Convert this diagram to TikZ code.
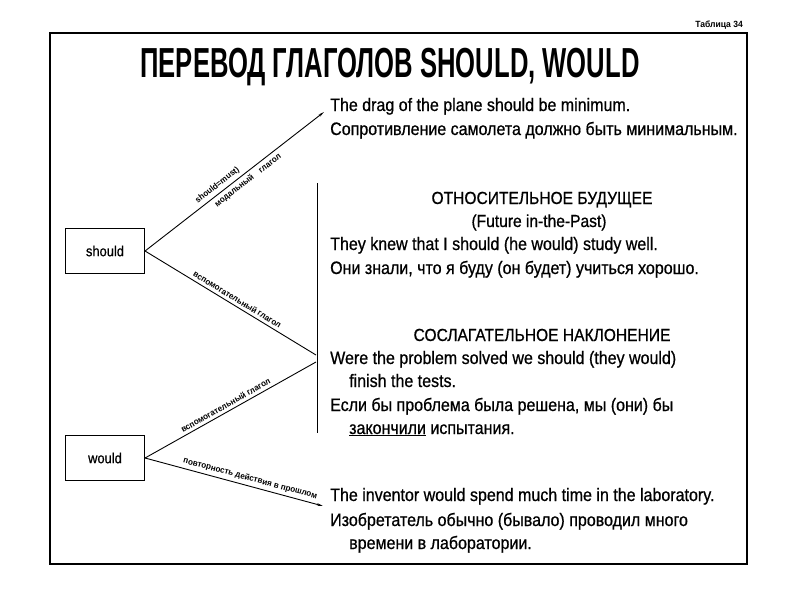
\documentclass[tikz,border=0pt]{standalone}
\usepackage{fontspec}
\setmainfont{Liberation Sans}[FakeStretch=0.89,FakeBold=0.7]
\newfontfamily\titlefont{Liberation Sans}[FakeStretch=0.61]
\newfontfamily\labelfont{Liberation Sans}[FakeStretch=0.95]
\usetikzlibrary{arrows.meta}
\begin{document}
\begin{tikzpicture}[x=1pt,y=-1pt,
  txt/.style={anchor=base west, inner sep=0pt, font=\fontsize{18}{20}\selectfont},
  head/.style={anchor=base, inner sep=0pt, font=\fontsize{17.5}{20}\selectfont},
  vbox/.style={draw, line width=1.1pt, minimum width=79pt, minimum height=45pt, inner sep=0pt, font=\fontsize{14.5}{16}\selectfont},
  conn/.style={line width=0.9pt},
  lbl/.style={font=\labelfont\bfseries\fontsize{8.5}{9}\selectfont, sloped, inner sep=3pt},
  tip/.style={-{Stealth[length=6pt,width=2.5pt]}}
]
\fill[white] (0,0) rectangle (800,600);
\useasboundingbox (0,0) rectangle (800,600);
% frame
\draw[line width=1.2pt] (50,33) rectangle (747,564);
\node[anchor=base east, inner sep=0pt, font=\labelfont\bfseries\fontsize{9}{10}\selectfont] (tab) at (743,27) {Таблица 34};
\node[anchor=base, inner sep=0pt, font=\titlefont\bfseries\fontsize{42}{44}\selectfont] (title) at (390,77) {ПЕРЕВОД ГЛАГОЛОВ SHOULD, WOULD};
% boxes
\node[vbox] (s) at (105,251) {should};
\node[vbox] (w) at (105,458) {would};
% bar
\coordinate (bt) at (317,183);
\coordinate (bb) at (317,433);
\draw[line width=1pt] (bt) -- (bb);
\coordinate (top) at (324,112);
\coordinate (m1) at (316,355);
\coordinate (m2) at (316,362);
\coordinate (bot) at (323,506);
% connectors
\draw[conn,tip] (s.east) -- node[lbl, above, pos=0.43] {should=must)} node[lbl, below, pos=0.55] {модальный\quad глагол} (top);
\draw[conn] (s.east) -- node[lbl, above, pos=0.52] {вспомогательный глагол} (m1);
\draw[conn] (w.east) -- node[lbl, above, pos=0.49] {вспомогательный глагол} (m2);
\draw[conn,tip] (w.east) -- node[lbl, above, pos=0.58] {повторность действия в прошлом} (bot);
% texts
\node[txt] (t1) at (330,111) {The drag of the plane should be minimum.};
\node[txt] (t2) at (330,135) {Сопротивление самолета должно быть минимальным.};
\node[head] (h1) at (542,204) {ОТНОСИТЕЛЬНОЕ БУДУЩЕЕ};
\node[head] (h1b) at (539,227) {(Future in-the-Past)};
\node[txt] (t3) at (330,250) {They knew that I should (he would) study well.};
\node[txt] (t4) at (330,274) {Они знали, что я буду (он будет) учиться хорошо.};
\node[head] (h2) at (542,341) {СОСЛАГАТЕЛЬНОЕ НАКЛОНЕНИЕ};
\node[txt] (t5) at (330,364) {Were the problem solved we should (they would)};
\node[txt] (t6) at (349,387) {finish the tests.};
\node[txt] (t7) at (330,411) {Если бы проблема была решена, мы (они) бы};
\node[txt] (t8) at (349,434) {\underline{закончили} испытания.};
\node[txt] (t9) at (330,501) {The inventor would spend much time in the laboratory.};
\node[txt] (t10) at (330,526) {Изобретатель обычно (бывало) проводил много};
\node[txt] (t11) at (349,549) {времени в лаборатории.};
\end{tikzpicture}
\end{document}
